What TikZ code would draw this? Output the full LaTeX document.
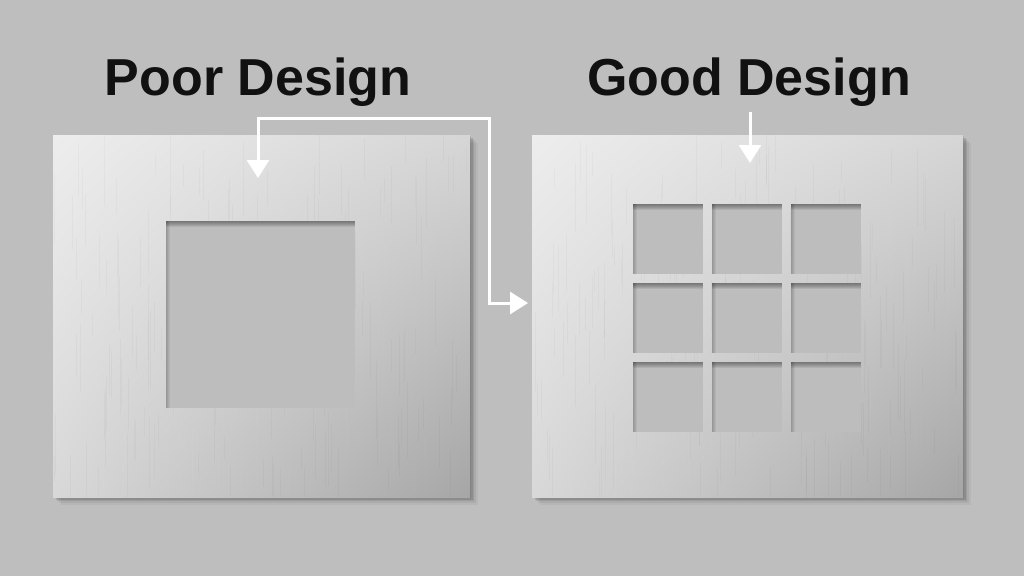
\documentclass[tikz,border=0pt]{standalone}
\usepackage{fontspec}
\setmainfont{Liberation Sans}
\usetikzlibrary{arrows.meta,shadings}
\definecolor{bgc}{HTML}{BEBEBE}
\definecolor{holec}{HTML}{BDBDBD}
\definecolor{pTL}{HTML}{EDEDED}
\definecolor{pTR}{HTML}{D6D6D6}
\definecolor{pBL}{HTML}{D8D8D8}
\definecolor{pBR}{HTML}{A6A6A6}
\definecolor{inkc}{HTML}{111111}
\tikzset{
  title/.style={font=\fontsize{52}{60}\selectfont\bfseries, text=inkc, inner sep=0pt, anchor=base},
  panel/.style={draw=none, inner sep=0pt, shade, upper left=pTL, upper right=pTR, lower left=pBL, lower right=pBR},
  hole/.style={fill=holec, inner sep=0pt, draw=none,
    path picture={
      \foreach \k in {1,2,3,4,5,6}{
        \fill[black, opacity=0.07]
          (path picture bounding box.north west) rectangle ([yshift=-\k pt]path picture bounding box.north east);
      }
      \foreach \k in {1,2,3,4}{
        \fill[black, opacity=0.05]
          (path picture bounding box.north west) rectangle ([xshift=\k pt]path picture bounding box.south west);
      }
    }},
  cell/.style={hole, minimum width=70pt, minimum height=70pt},
  conn/.style={draw=white, line width=3pt, {Triangle[length=18pt,width=22pt,fill=white]}-{Triangle[length=18pt,width=22pt,fill=white]}},
  conn1/.style={draw=white, line width=3pt, -{Triangle[length=18pt,width=22pt,fill=white]}},
  brush/.style={line width=0.5pt, opacity=0.025},
}
\begin{document}
\begin{tikzpicture}[x=1pt,y=-1pt]
\fill[bgc] (0,0) rectangle (1024,576);
\useasboundingbox (0,0) rectangle (1024,576);
% panel shadows
\foreach \o/\a in {8/0.04,6/0.06,4/0.08,2.5/0.1,1.2/0.1}{
  \fill[black, opacity=\a] (53+\o,135+\o) rectangle (470+\o,497+\o);
  \fill[black, opacity=\a] (532+\o,135+\o) rectangle (963+\o,497+\o);
}
% titles
\node[title] (t1) at (258,95) {Poor Design};
\node[title] (t2) at (749,95) {Good Design};
% panels
\node[panel, minimum width=417pt, minimum height=362pt] (P1) at (261.5,316) {};
\node[panel, minimum width=431pt, minimum height=362pt] (P2) at (747.5,316) {};
% brushed texture
\pgfmathsetseed{7}
\begin{scope}
\clip (53,135) rectangle (470,497) (532,135) rectangle (963,497);
\foreach \k in {1,...,160}{
  \pgfmathsetmacro{\xa}{54+rnd*414}
  \pgfmathsetmacro{\ya}{130+rnd*340}
  \pgfmathsetmacro{\la}{20+rnd*60}
  \draw[brush, draw=black] (\xa,\ya) -- (\xa,\ya+\la);
  \pgfmathsetmacro{\xb}{533+rnd*428}
  \pgfmathsetmacro{\yb}{130+rnd*340}
  \draw[brush, draw=black] (\xb,\yb) -- (\xb,\yb+\la);
  \pgfmathsetmacro{\xc}{54+rnd*414}
  \draw[brush, draw=white] (\xc,\yb) -- (\xc,\yb+\la);
  \pgfmathsetmacro{\xd}{533+rnd*428}
  \draw[brush, draw=white] (\xd,\ya) -- (\xd,\ya+\la);
}
\end{scope}
% big hole
\node[hole, minimum width=189pt, minimum height=187pt] (H) at (260.5,314.5) {};
% grid of holes
\foreach \i/\x in {1/668,2/747,3/826}{
  \foreach \j/\y in {1/239,2/318,3/397}{
    \node[cell] (c\i\j) at (\x,\y) {};
  }
}
% connectors
\coordinate (a1) at (258,178);
\coordinate (a2) at (528,303);
\coordinate (b1) at (750,112);
\coordinate (b2) at (750,163);
\draw[conn] (a1) -- (258,118) -- (489,118) -- (489,303) -- (a2);
\draw[conn1] (b1) -- (b2);
\end{tikzpicture}
\end{document}
